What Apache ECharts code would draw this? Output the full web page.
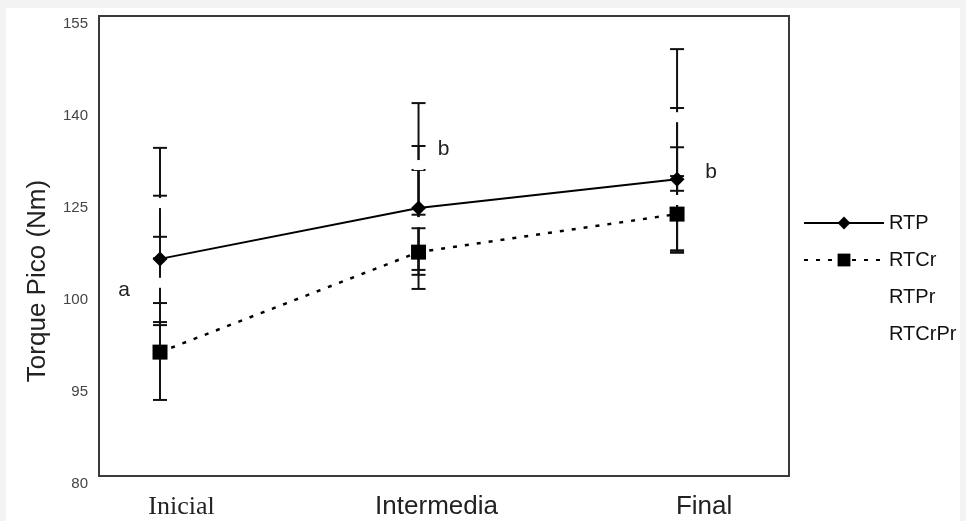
<!DOCTYPE html>
<html>
<head>
<meta charset="utf-8">
<script src="https://cdn.jsdelivr.net/npm/echarts@6/dist/echarts.min.js"></script>
<style>
  html, body { margin: 0; padding: 0; background: #f3f3f3; }
  #paper { position: absolute; left: 6px; top: 8px; width: 954px; height: 513px; background: #fff; }
  #chart { position: absolute; left: 0; top: 0; width: 966px; height: 521px; }
</style>
</head>
<body>
<div id="paper"></div>
<div id="chart"></div>
<script>
// categorias y etiquetas
const xCategories = ['Inicial', 'Intermedia', 'Final']
const yTickLabels = ['80', '95', '100', '125', '140', '155']
const seriesNames = ['RTP', 'RTCr', 'RTPr', 'RTCrPr']

// medias
const rtpValues = [115.4, 123.7, 128.4]
const rtcrValues = [100.2, 116.5, 122.7]
const rtprValues = [124.5, 130.7, 138.5]
const rtcrprValues = [111.5, 121.4, 125.0]

// barras de error (min, max)
const rtpLow = [105.1, 113.6, 116.8]
const rtpHigh = [125.7, 133.8, 140.0]
const rtcrLow = [92.4, 110.5, 116.5]
const rtcrHigh = [108.2, 122.6, 128.9]
const rtprLow = [115.5, 120.4, 126.5]
const rtprHigh = [133.5, 140.8, 149.6]
const rtcrprLow = [104.6, 112.8, 116.4]
const rtcrprHigh = [119.0, 129.9, 133.6]

// letras de significancia
const noteTexts = ['a', 'b', 'b']
const noteX = [0, 1, 2]
const noteY = [110.3, 133.3, 129.6]
const noteDx = [-36, 25, 34]

const chart = echarts.init(document.getElementById('chart'))

const toPoints = (vals) => vals.map((v, i) => [i, v])

const errorData = []
const lows = [rtpLow, rtcrLow, rtprLow, rtcrprLow]
const highs = [rtpHigh, rtcrHigh, rtprHigh, rtcrprHigh]
lows.forEach((lo, s) => {
  lo.forEach((v, i) => errorData.push([i, v, highs[s][i]]))
})

const capHalf = 7
const ink = '#111'

const option = {
  animation: false,
  backgroundColor: 'transparent',
  textStyle: { fontFamily: 'Liberation Sans, Arial, sans-serif' },
  grid: {
    left: 99,
    right: 177,
    top: 16,
    bottom: 45,
    show: true,
    borderColor: '#3a3a3a',
    borderWidth: 2,
    backgroundColor: 'transparent'
  },
  legend: {
    data: seriesNames,
    orient: 'vertical',
    left: 798,
    top: 208,
    itemWidth: 80,
    itemHeight: 16,
    itemGap: 17,
    selectedMode: false,
    textStyle: { fontSize: 20, color: '#111', fontFamily: 'Liberation Sans' }
  },
  xAxis: {
    type: 'value',
    min: -0.236,
    max: 2.433,
    axisLine: { show: false },
    axisTick: { show: false },
    splitLine: { show: false },
    axisLabel: {
      customValues: [0, 1, 2],
      margin: 18,
      formatter: (v) => {
        const i = Math.round(v)
        return '{c' + i + '|' + xCategories[i] + '}'
      },
      rich: {
        c0: { fontFamily: 'Liberation Serif', fontSize: 26, color: '#222', padding: [0, 0, 0, 43] },
        c1: { fontFamily: 'Liberation Sans', fontSize: 26, color: '#222', padding: [0, 0, 0, 36] },
        c2: { fontFamily: 'Liberation Sans', fontSize: 26, color: '#222', padding: [0, 0, 0, 54] }
      }
    }
  },
  yAxis: {
    type: 'value',
    min: 80,
    max: 155,
    interval: 15,
    name: 'Torque Pico (Nm)',
    nameLocation: 'middle',
    nameGap: 48,
    nameTextStyle: { fontSize: 26, color: '#222', fontFamily: 'Liberation Sans', padding: [0, 70, 0, 0] },
    axisLine: { show: false },
    axisTick: { show: false },
    splitLine: { show: false },
    axisLabel: {
      fontSize: 15,
      color: '#444',
      margin: 11,
      verticalAlign: 'top',
      formatter: (v) => yTickLabels[Math.round((v - 80) / 15)]
    }
  },
  series: [
    {
      name: 'errores',
      type: 'custom',
      z: 1,
      encode: { x: 0, y: [1, 2] },
      data: errorData,
      renderItem: (params, api) => {
        const x = api.value(0)
        const lo = api.coord([x, api.value(1)])
        const hi = api.coord([x, api.value(2)])
        const style = { stroke: ink, lineWidth: 2 }
        return {
          type: 'group',
          children: [
            { type: 'line', shape: { x1: hi[0], y1: hi[1], x2: lo[0], y2: lo[1] }, style },
            { type: 'line', shape: { x1: hi[0] - capHalf, y1: hi[1], x2: hi[0] + capHalf, y2: hi[1] }, style },
            { type: 'line', shape: { x1: lo[0] - capHalf, y1: lo[1], x2: lo[0] + capHalf, y2: lo[1] }, style }
          ]
        }
      }
    },
    {
      name: 'RTPr',
      type: 'line',
      z: 3,
      data: toPoints(rtprValues),
      symbol: 'rect',
      symbolSize: [10, 10],
      itemStyle: { color: '#fff' },
      lineStyle: { opacity: 0 }
    },
    {
      name: 'RTCrPr',
      type: 'line',
      z: 3,
      data: toPoints(rtcrprValues),
      symbol: 'rect',
      symbolSize: [10, 10],
      itemStyle: { color: '#fff' },
      lineStyle: { opacity: 0 }
    },
    {
      name: 'RTP',
      type: 'line',
      z: 5,
      data: toPoints(rtpValues),
      symbol: 'diamond',
      symbolSize: 15,
      itemStyle: { color: '#000' },
      lineStyle: { color: '#000', width: 2 }
    },
    {
      name: 'RTCr',
      type: 'line',
      z: 5,
      data: toPoints(rtcrValues),
      symbol: 'rect',
      symbolSize: 15,
      itemStyle: { color: '#000' },
      lineStyle: { color: '#000', width: 2.5, type: [4, 8] }
    },
    {
      name: 'letras',
      type: 'custom',
      z: 6,
      data: noteX.map((x, i) => [x, noteY[i]]),
      renderItem: (params, api) => {
        const p = api.coord([api.value(0), api.value(1)])
        const i = params.dataIndex
        return {
          type: 'text',
          x: p[0] + noteDx[i],
          y: p[1],
          style: {
            text: noteTexts[i],
            fontSize: 21,
            fontFamily: 'Liberation Sans',
            fill: '#222',
            align: 'center',
            verticalAlign: 'middle'
          }
        }
      }
    }
  ]
}

chart.setOption(option)
</script>
</body>
</html>
